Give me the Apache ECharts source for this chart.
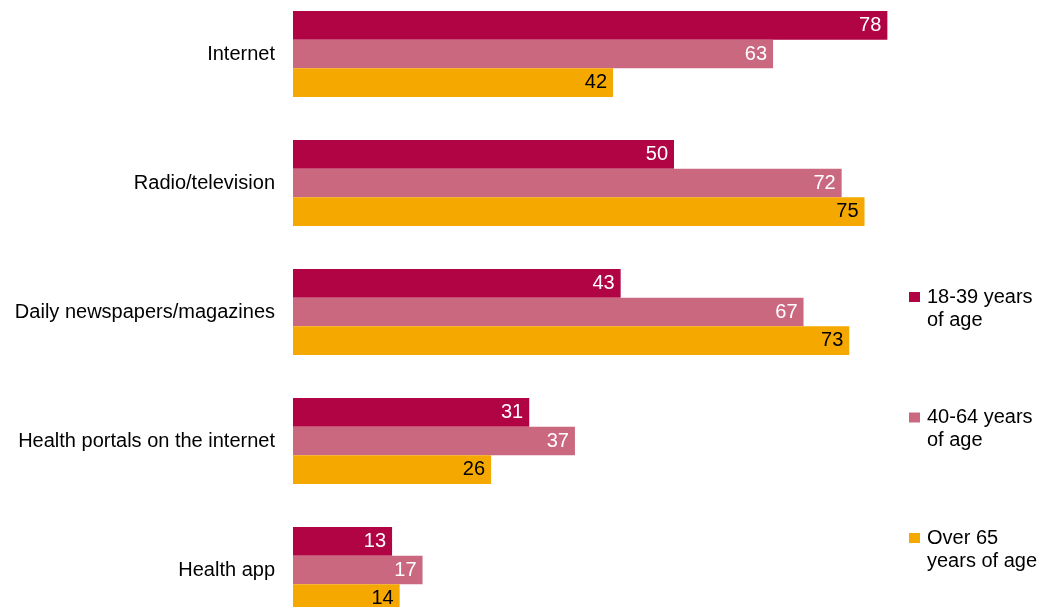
<!DOCTYPE html>
<html>
<head>
<meta charset="utf-8">
<script src="https://cdn.jsdelivr.net/npm/echarts@6/dist/echarts.min.js"></script>
<style>
  html, body { margin: 0; padding: 0; background: #fff; }
  #myChart { width: 1040px; height: 607px; }
</style>
</head>
<body>
<div id="myChart"></div>
<script>
// data
const categories = ["Internet", "Radio/television", "Daily newspapers/magazines", "Health portals on the internet", "Health app"];
const seriesNames = ["18-39 years\nof age", "40-64 years\nof age", "Over 65\nyears of age"];
const young = [78, 50, 43, 31, 13];
const middle = [63, 72, 67, 37, 17];
const old = [42, 75, 73, 26, 14];

const colors = ["#B00445", "#CA6880", "#F5A800"];
const labelColors = ["#fff", "#fff", "#000"];
const font = "Liberation Sans, Arial, sans-serif";

let chart = echarts.init(document.getElementById("myChart"));

function makeSeries(name, data, i) {
  return {
    type: "bar",
    name: name,
    data: data,
    barGap: "0%",
    barCategoryGap: "33.3%",
    itemStyle: { color: colors[i] },
    label: {
      show: true,
      position: "insideRight",
      distance: 6,
      color: labelColors[i],
      fontFamily: font,
      fontSize: 20,
    },
    animation: false,
  };
}

let option = {
  color: colors,
  grid: {
    left: 293,
    right: 137.4,
    top: -10.5,
    bottom: -27.5,
    containLabel: false,
    outerBoundsMode: "none",
  },
  legend: {
    orient: "vertical",
    left: 909,
    top: 262.5,
    padding: 0,
    itemGap: 51.5,
    itemWidth: 11,
    itemHeight: 10,
    icon: "rect",
    selectedMode: false,
    // empty first line so the marker sits next to the first text line
    formatter: (name) => " \n" + name,
    textStyle: {
      fontFamily: font,
      fontSize: 20,
      lineHeight: 23,
      color: "#000",
      padding: [0, 0, 0, 2],
    },
    data: seriesNames,
  },
  xAxis: {
    type: "value",
    min: 0,
    max: 80,
    show: false,
  },
  yAxis: {
    type: "category",
    inverse: true,
    data: categories,
    axisLine: { show: false },
    axisTick: { show: false },
    splitLine: { show: false },
    axisLabel: {
      margin: 18,
      color: "#000",
      fontFamily: font,
      fontSize: 20,
    },
  },
  series: [
    makeSeries(seriesNames[0], young, 0),
    makeSeries(seriesNames[1], middle, 1),
    makeSeries(seriesNames[2], old, 2),
  ],
};

chart.setOption(option);
</script>
</body>
</html>
